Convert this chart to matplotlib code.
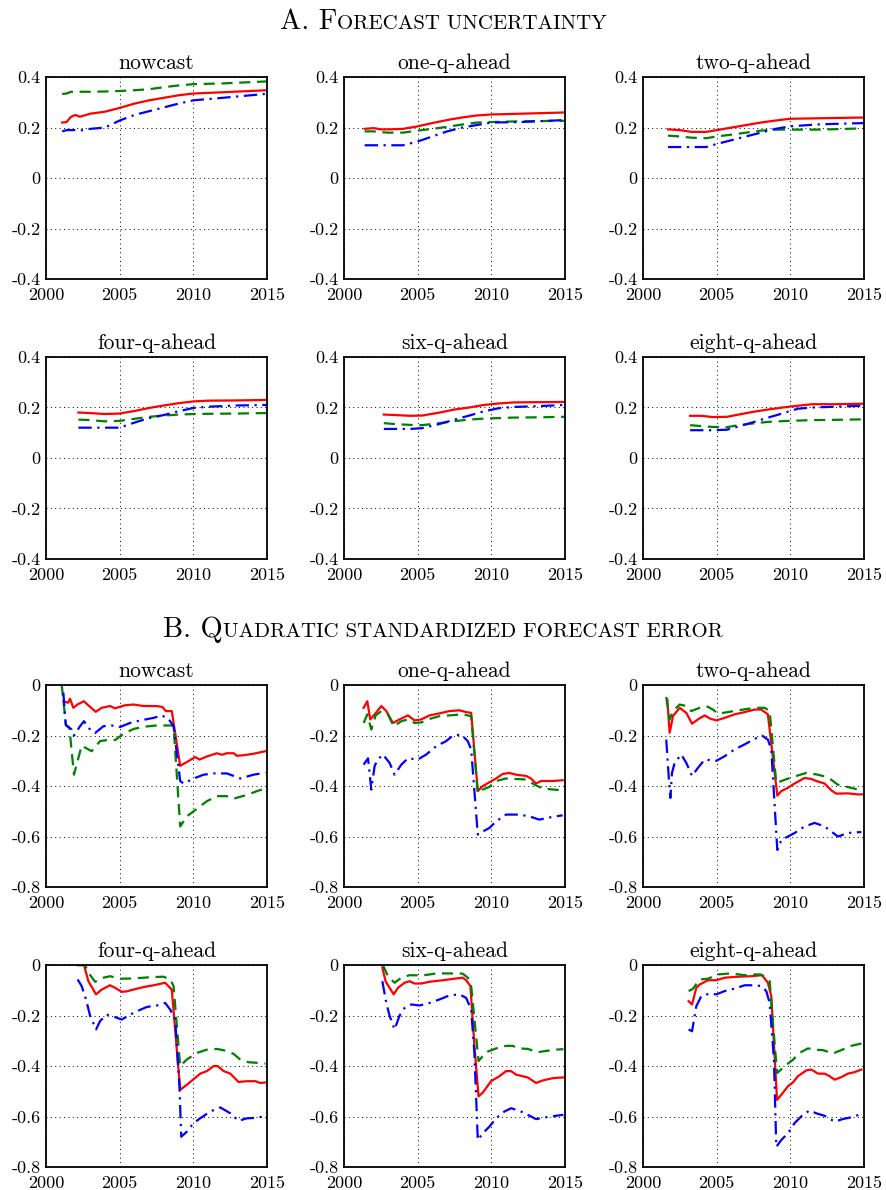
import matplotlib
matplotlib.use("Agg")
import matplotlib.pyplot as plt
from matplotlib.offsetbox import TextArea, HPacker, AnnotationBbox

plt.rcParams['font.family'] = ['cmr10', 'DejaVu Serif']
plt.rcParams['axes.formatter.use_mathtext'] = True

RED, GREEN, BLUE = '#ff0000', '#008000', '#0000ff'
horizons = ["nowcast", "one-q-ahead", "two-q-ahead",
            "four-q-ahead", "six-q-ahead", "eight-q-ahead"]

# ---------------- A. forecast uncertainty (one year grid per subplot) ----------
a_years = [
    [2001.1, 2001.4, 2001.7, 2002.0, 2002.3, 2003, 2004, 2005, 2006, 2007, 2008, 2009, 2010, 2012, 2015],
    [2001.4, 2002.0, 2002.5, 2003, 2004, 2005, 2006, 2007, 2008, 2009, 2010, 2012, 2015],
    [2001.7, 2002.5, 2003.3, 2004.3, 2005, 2006, 2007, 2008, 2009, 2010, 2012, 2015],
    [2002.2, 2003, 2004, 2005, 2006, 2007, 2008, 2009, 2010, 2011, 2013, 2015],
    [2002.7, 2003.5, 2004.5, 2005.3, 2006.5, 2007.5, 2008.5, 2009.5, 2010.5, 2011.5, 2013, 2015],
    [2003.2, 2004, 2004.7, 2005.7, 2006.5, 2007.5, 2008.5, 2009.5, 2010.5, 2011.5, 2013, 2015],
]
a_red = [
    [0.22, 0.222, 0.243, 0.25, 0.243, 0.255, 0.263, 0.278, 0.295, 0.308, 0.318, 0.328, 0.335, 0.34, 0.348],
    [0.195, 0.198, 0.193, 0.193, 0.195, 0.205, 0.218, 0.23, 0.24, 0.248, 0.252, 0.255, 0.26],
    [0.193, 0.19, 0.183, 0.183, 0.19, 0.2, 0.21, 0.22, 0.228, 0.235, 0.237, 0.24],
    [0.18, 0.178, 0.174, 0.176, 0.186, 0.198, 0.208, 0.217, 0.224, 0.227, 0.228, 0.23],
    [0.172, 0.17, 0.167, 0.168, 0.18, 0.192, 0.2, 0.21, 0.216, 0.22, 0.221, 0.222],
    [0.167, 0.167, 0.162, 0.163, 0.172, 0.183, 0.192, 0.2, 0.207, 0.213, 0.213, 0.215],
]
a_green = [
    [0.333, 0.335, 0.342, 0.342, 0.342, 0.342, 0.343, 0.345, 0.348, 0.352, 0.36, 0.367, 0.372, 0.375, 0.383],
    [0.185, 0.185, 0.182, 0.18, 0.18, 0.188, 0.195, 0.203, 0.212, 0.22, 0.222, 0.225, 0.227],
    [0.168, 0.165, 0.16, 0.158, 0.165, 0.172, 0.18, 0.188, 0.192, 0.192, 0.192, 0.197],
    [0.152, 0.15, 0.145, 0.147, 0.155, 0.163, 0.168, 0.172, 0.174, 0.175, 0.176, 0.178],
    [0.138, 0.134, 0.131, 0.13, 0.138, 0.146, 0.152, 0.156, 0.158, 0.16, 0.161, 0.163],
    [0.13, 0.126, 0.123, 0.122, 0.13, 0.137, 0.143, 0.146, 0.148, 0.15, 0.151, 0.153],
]
a_blue = [
    [0.185, 0.19, 0.19, 0.19, 0.188, 0.195, 0.2, 0.228, 0.25, 0.265, 0.28, 0.295, 0.308, 0.318, 0.334],
    [0.13, 0.13, 0.13, 0.13, 0.13, 0.145, 0.165, 0.185, 0.2, 0.21, 0.22, 0.222, 0.23],
    [0.123, 0.123, 0.123, 0.123, 0.135, 0.15, 0.165, 0.18, 0.195, 0.205, 0.213, 0.218],
    [0.12, 0.12, 0.12, 0.12, 0.14, 0.158, 0.17, 0.185, 0.198, 0.203, 0.208, 0.21],
    [0.115, 0.115, 0.115, 0.118, 0.135, 0.152, 0.168, 0.185, 0.197, 0.202, 0.205, 0.21],
    [0.11, 0.11, 0.11, 0.112, 0.125, 0.142, 0.16, 0.177, 0.195, 0.2, 0.203, 0.207],
]

# ---------------- B. quadratic standardized forecast error ---------------------
b_red_t = [
    [2001.18, 2001.5, 2001.63, 2001.86, 2002.13, 2002.58, 2002.81, 2003.38, 2003.78, 2004.35, 2004.69, 2005.37,
     2005.94, 2006.62, 2007.52, 2007.91, 2008.14, 2008.54, 2009.11, 2009.56, 2010.13, 2010.42, 2010.92, 2011.6,
     2011.94, 2012.28, 2012.74, 2012.96, 2013.41, 2014.09, 2014.89],
    [2001.33, 2001.58, 2001.78, 2002.08, 2002.53, 2002.87, 2003.32, 2003.77, 2004.34, 2004.79, 2005.24, 2005.81,
     2006.48, 2007.16, 2007.84, 2008.29, 2008.63, 2009.08, 2009.42, 2009.87, 2010.32, 2010.77, 2011.23, 2011.68,
     2012.36, 2012.69, 2013.03, 2013.37, 2014.16, 2014.84],
    [2001.65, 2001.81, 2002.04, 2002.49, 2002.94, 2003.33, 2003.73, 2004.19, 2004.52, 2004.98, 2005.54, 2006.22,
     2006.9, 2007.58, 2008.03, 2008.48, 2009.12, 2009.39, 2009.84, 2010.29, 2010.97, 2011.43, 2011.76, 2012.33,
     2012.78, 2013.12, 2013.91, 2014.59, 2014.93],
    [2002.15, 2002.58, 2002.88, 2003.4, 2003.78, 2004.35, 2004.69, 2005.14, 2005.48, 2005.94, 2006.62, 2007.3,
     2008.09, 2008.54, 2009.11, 2009.56, 2010.02, 2010.47, 2010.92, 2011.38, 2011.65, 2012.06, 2012.51, 2013.07,
     2013.64, 2014.21, 2014.55, 2014.89],
    [2002.6, 2002.82, 2003.09, 2003.37, 2003.66, 2004.11, 2004.45, 2004.79, 2005.24, 2005.81, 2006.71, 2007.61,
     2008.06, 2008.29, 2008.58, 2008.85, 2009.13, 2009.42, 2009.98, 2010.55, 2011.0, 2011.34, 2011.68, 2012.47,
     2013.03, 2013.49, 2014.16, 2014.89],
    [2003.1, 2003.33, 2003.62, 2003.85, 2004.41, 2004.98, 2005.54, 2006.45, 2007.35, 2008.08, 2008.48, 2008.71,
     2009.1, 2009.39, 2009.84, 2010.18, 2010.52, 2011.09, 2011.43, 2011.88, 2012.33, 2012.67, 2013.01, 2013.46,
     2013.91, 2014.37, 2014.82],
]
b_red_v = [
    [-0.064, -0.07, -0.054, -0.09, -0.077, -0.064, -0.077, -0.106, -0.09, -0.083, -0.092, -0.08,
     -0.077, -0.083, -0.083, -0.087, -0.103, -0.103, -0.32, -0.305, -0.285, -0.295, -0.283, -0.27,
     -0.276, -0.27, -0.27, -0.28, -0.278, -0.272, -0.262],
    [-0.09, -0.064, -0.136, -0.116, -0.083, -0.103, -0.15, -0.136, -0.12, -0.14, -0.136, -0.12,
     -0.112, -0.103, -0.1, -0.107, -0.11, -0.42, -0.4, -0.385, -0.37, -0.352, -0.348, -0.355,
     -0.36, -0.37, -0.39, -0.38, -0.38, -0.377],
    [-0.057, -0.189, -0.123, -0.09, -0.11, -0.153, -0.136, -0.12, -0.132, -0.14, -0.13, -0.116,
     -0.107, -0.097, -0.097, -0.116, -0.438, -0.42, -0.407, -0.39, -0.368, -0.372, -0.38, -0.39,
     -0.417, -0.43, -0.429, -0.433, -0.433],
    [0.0, 0.0, -0.064, -0.116, -0.097, -0.08, -0.09, -0.106, -0.104, -0.097, -0.087, -0.08,
     -0.07, -0.097, -0.494, -0.474, -0.452, -0.43, -0.42, -0.4, -0.4, -0.42, -0.43, -0.463,
     -0.46, -0.46, -0.467, -0.465],
    [-0.01, -0.064, -0.09, -0.116, -0.09, -0.07, -0.064, -0.073, -0.073, -0.066, -0.06, -0.053,
     -0.05, -0.06, -0.083, -0.32, -0.52, -0.505, -0.46, -0.44, -0.42, -0.42, -0.434, -0.445,
     -0.467, -0.457, -0.448, -0.445],
    [-0.143, -0.156, -0.09, -0.077, -0.06, -0.06, -0.05, -0.046, -0.044, -0.04, -0.07, -0.123,
     -0.534, -0.514, -0.48, -0.465, -0.44, -0.417, -0.414, -0.43, -0.43, -0.44, -0.454, -0.444,
     -0.43, -0.424, -0.414],
]
b_green_t = [
    [2001.07, 2001.36, 2001.59, 2001.9, 2002.42, 2003.1, 2003.67, 2004.35, 2004.69, 2005.26, 2005.94, 2006.62,
     2007.52, 2008.66, 2009.11, 2009.56, 2010.02, 2010.47, 2010.92, 2011.6, 2012.28, 2012.74, 2013.64, 2014.32,
     2014.89],
    [2001.33, 2001.58, 2001.85, 2002.15, 2002.53, 2002.98, 2003.37, 2003.89, 2004.34, 2004.79, 2005.24, 2005.81,
     2006.48, 2007.16, 2008.06, 2008.63, 2009.08, 2009.42, 2009.87, 2010.32, 2011.0, 2011.68, 2012.36, 2012.92,
     2013.49, 2014.84],
    [2001.58, 2001.81, 2002.04, 2002.49, 2002.94, 2003.28, 2003.85, 2004.3, 2004.75, 2005.09, 2005.77, 2006.45,
     2007.13, 2007.81, 2008.26, 2008.6, 2009.05, 2009.62, 2010.29, 2011.09, 2011.88, 2012.33, 2012.78, 2013.24,
     2013.91, 2014.82],
    [2002.15, 2002.65, 2002.88, 2003.33, 2003.9, 2004.35, 2005.03, 2005.94, 2007.07, 2007.98, 2008.43, 2008.66,
     2009.11, 2009.56, 2010.24, 2010.92, 2011.6, 2012.28, 2012.74, 2013.19, 2013.75, 2014.32, 2014.89],
    [2002.64, 2002.98, 2003.43, 2003.89, 2004.45, 2005.35, 2006.26, 2007.16, 2008.06, 2008.4, 2008.63, 2009.13,
     2009.65, 2010.32, 2011.0, 2011.45, 2011.9, 2012.47, 2013.15, 2013.71, 2014.39, 2014.89],
    [2003.1, 2003.39, 2003.85, 2004.41, 2005.09, 2005.99, 2006.9, 2007.58, 2007.99, 2008.37, 2008.6, 2009.1,
     2009.62, 2010.18, 2010.63, 2011.2, 2011.65, 2012.22, 2012.9, 2013.46, 2014.14, 2014.86],
]
b_green_v = [
    [0.0, -0.16, -0.17, -0.355, -0.24, -0.262, -0.222, -0.216, -0.218, -0.193, -0.174, -0.165,
     -0.16, -0.16, -0.56, -0.52, -0.5, -0.48, -0.46, -0.44, -0.44, -0.45, -0.435, -0.42, -0.41],
    [-0.15, -0.116, -0.176, -0.12, -0.103, -0.116, -0.163, -0.143, -0.136, -0.15, -0.148, -0.134,
     -0.123, -0.12, -0.116, -0.123, -0.427, -0.414, -0.403, -0.38, -0.37, -0.372, -0.374, -0.394,
     -0.41, -0.417],
    [-0.047, -0.136, -0.103, -0.077, -0.083, -0.103, -0.09, -0.083, -0.097, -0.113, -0.107, -0.1,
     -0.094, -0.09, -0.09, -0.103, -0.388, -0.375, -0.362, -0.348, -0.355, -0.362, -0.375, -0.395,
     -0.404, -0.417],
    [0.0, 0.0, -0.03, -0.066, -0.05, -0.044, -0.054, -0.053, -0.048, -0.046, -0.057, -0.083,
     -0.4, -0.374, -0.348, -0.335, -0.332, -0.34, -0.352, -0.374, -0.385, -0.387, -0.39],
    [0.0, -0.044, -0.07, -0.05, -0.04, -0.041, -0.033, -0.033, -0.034, -0.05, -0.083, -0.38,
     -0.345, -0.33, -0.32, -0.32, -0.33, -0.332, -0.345, -0.34, -0.335, -0.333],
    [-0.103, -0.094, -0.057, -0.054, -0.037, -0.033, -0.04, -0.037, -0.037, -0.05, -0.064, -0.428,
     -0.4, -0.375, -0.348, -0.33, -0.335, -0.337, -0.35, -0.337, -0.32, -0.31],
]
b_blue_t = [
    [2001.18, 2001.34, 2001.74, 2001.9, 2002.31, 2002.58, 2002.88, 2003.33, 2003.9, 2004.46, 2005.03, 2005.71,
     2006.39, 2007.3, 2007.86, 2008.32, 2008.66, 2009.11, 2009.34, 2010.02, 2010.7, 2011.38, 2012.28, 2012.74,
     2013.19, 2014.09, 2014.89],
    [2001.33, 2001.63, 2001.85, 2002.08, 2002.3, 2002.64, 2003.09, 2003.43, 2003.89, 2004.34, 2005.01, 2005.58,
     2006.26, 2006.93, 2007.39, 2007.95, 2008.4, 2008.63, 2009.08, 2009.42, 2009.87, 2010.32, 2011.0, 2011.9,
     2012.58, 2013.26, 2014.16, 2014.84],
    [2001.58, 2001.76, 2001.86, 2001.97, 2002.15, 2002.6, 2002.94, 2003.33, 2003.73, 2004.19, 2004.98, 2005.54,
     2006.22, 2006.9, 2007.58, 2008.08, 2008.48, 2008.71, 2009.12, 2009.39, 2009.84, 2010.29, 2010.97, 2011.65,
     2012.33, 2012.78, 2013.24, 2013.91, 2014.82],
    [2002.15, 2002.42, 2002.72, 2002.99, 2003.4, 2003.67, 2004.12, 2004.69, 2005.14, 2005.6, 2006.16, 2006.84,
     2007.52, 2008.09, 2008.43, 2008.77, 2009.06, 2009.18, 2009.56, 2010.02, 2010.47, 2011.15, 2011.83, 2012.51,
     2013.07, 2013.64, 2014.32, 2014.89],
    [2002.6, 2002.87, 2003.09, 2003.43, 2003.77, 2004.11, 2004.56, 2005.13, 2005.81, 2006.48, 2007.16, 2007.84,
     2008.29, 2008.63, 2008.85, 2009.08, 2009.42, 2009.87, 2010.32, 2010.89, 2011.34, 2011.9, 2012.47, 2013.03,
     2013.71, 2014.39, 2014.89],
    [2003.1, 2003.33, 2003.62, 2003.96, 2004.52, 2004.98, 2005.54, 2006.22, 2006.9, 2007.58, 2008.03, 2008.37,
     2008.6, 2008.89, 2009.05, 2009.39, 2009.84, 2010.29, 2010.86, 2011.31, 2011.76, 2012.33, 2013.01, 2013.57,
     2014.37, 2014.86],
]
b_blue_v = [
    [-0.03, -0.157, -0.176, -0.2, -0.163, -0.143, -0.17, -0.19, -0.163, -0.16, -0.166, -0.15,
     -0.14, -0.13, -0.12, -0.134, -0.163, -0.38, -0.39, -0.37, -0.355, -0.35, -0.35, -0.36,
     -0.37, -0.355, -0.347],
    [-0.315, -0.29, -0.414, -0.32, -0.295, -0.275, -0.308, -0.355, -0.315, -0.29, -0.295, -0.275,
     -0.242, -0.222, -0.2, -0.196, -0.222, -0.255, -0.592, -0.58, -0.566, -0.54, -0.513, -0.513,
     -0.52, -0.533, -0.522, -0.516],
    [-0.216, -0.374, -0.447, -0.348, -0.308, -0.275, -0.308, -0.36, -0.328, -0.295, -0.3, -0.282,
     -0.255, -0.235, -0.213, -0.2, -0.216, -0.255, -0.653, -0.614, -0.6, -0.586, -0.56, -0.546,
     -0.56, -0.58, -0.6, -0.586, -0.582],
    [-0.057, -0.083, -0.136, -0.2, -0.255, -0.222, -0.196, -0.206, -0.216, -0.2, -0.183, -0.166,
     -0.16, -0.15, -0.176, -0.216, -0.48, -0.68, -0.66, -0.626, -0.607, -0.58, -0.564, -0.587,
     -0.617, -0.607, -0.605, -0.597],
    [-0.064, -0.15, -0.2, -0.255, -0.2, -0.17, -0.156, -0.16, -0.15, -0.136, -0.12, -0.116,
     -0.13, -0.176, -0.348, -0.693, -0.666, -0.64, -0.607, -0.58, -0.567, -0.577, -0.593, -0.61,
     -0.603, -0.597, -0.593],
    [-0.255, -0.262, -0.163, -0.123, -0.113, -0.116, -0.103, -0.093, -0.08, -0.08, -0.083, -0.103,
     -0.15, -0.374, -0.72, -0.693, -0.666, -0.626, -0.593, -0.576, -0.587, -0.597, -0.62, -0.61,
     -0.6, -0.587],
]

a_yticks = [-0.4, -0.2, 0, 0.2, 0.4]
b_yticks = [-0.8, -0.6, -0.4, -0.2, 0]
xticks = [2000, 2005, 2010, 2015]


def fmt(v):
    return "0" if v == 0 else f"{v:.1f}"


def style_axes(ax, title, yticks):
    ax.set_xlim(2000, 2015)
    ax.set_ylim(yticks[0], yticks[-1])
    ax.set_xticks(xticks)
    ax.set_xticklabels([str(t) for t in xticks], fontsize=13)
    ax.set_yticks(yticks)
    ax.set_yticklabels([fmt(t) for t in yticks], fontsize=13)
    ax.tick_params(direction='in', length=0)
    ax.tick_params(axis='x', pad=6)
    ax.tick_params(axis='y', pad=4)
    ax.grid(True, color='black', linestyle=(0, (1, 3.5)), linewidth=0.7)
    for s in ax.spines.values():
        s.set_linewidth(1.3)
    ax.set_title(title, fontsize=15.5, pad=6)


def small_caps_title(fig, y, lead, rest):
    parts = [TextArea(lead, textprops=dict(fontsize=20.5, family=['cmr10'])),
             TextArea(rest, textprops=dict(fontsize=15, family=['cmr10']))]
    box = HPacker(children=parts, align="baseline", pad=0, sep=0)
    ab = AnnotationBbox(box, (0.5, y), xycoords='figure fraction',
                        frameon=False, box_alignment=(0.5, 0.5))
    fig.add_artist(ab)


fig = plt.figure(figsize=(8.86, 11.9), dpi=100)

lefts = [0.0519, 0.3883, 0.7257]
width, height = 0.2494, 0.1697
a_bottoms = [0.7655, 0.5303]
b_bottoms = [0.2546, 0.0193]

for i, name in enumerate(horizons):
    ax = fig.add_axes([lefts[i % 3], a_bottoms[i // 3], width, height])
    t = a_years[i]
    ax.plot(t, a_red[i], color=RED, linewidth=1.6, linestyle='-')
    ax.plot(t, a_green[i], color=GREEN, linewidth=1.6, linestyle=(0, (5, 3)))
    ax.plot(t, a_blue[i], color=BLUE, linewidth=1.6, linestyle=(0, (6, 2.5, 1, 2.5)))
    style_axes(ax, name, a_yticks)

for i, name in enumerate(horizons):
    ax = fig.add_axes([lefts[i % 3], b_bottoms[i // 3], width, height])
    ax.plot(b_red_t[i], b_red_v[i], color=RED, linewidth=1.6, linestyle='-')
    ax.plot(b_green_t[i], b_green_v[i], color=GREEN, linewidth=1.6, linestyle=(0, (5, 3)))
    ax.plot(b_blue_t[i], b_blue_v[i], color=BLUE, linewidth=1.6, linestyle=(0, (6, 2.5, 1, 2.5)))
    style_axes(ax, name, b_yticks)

small_caps_title(fig, 0.9815, "A. F", "ORECAST UNCERTAINTY")
small_caps_title(fig, 0.4706, "B. Q", "UADRATIC STANDARDIZED FORECAST ERROR")

fig.savefig("out.png", dpi=100)
